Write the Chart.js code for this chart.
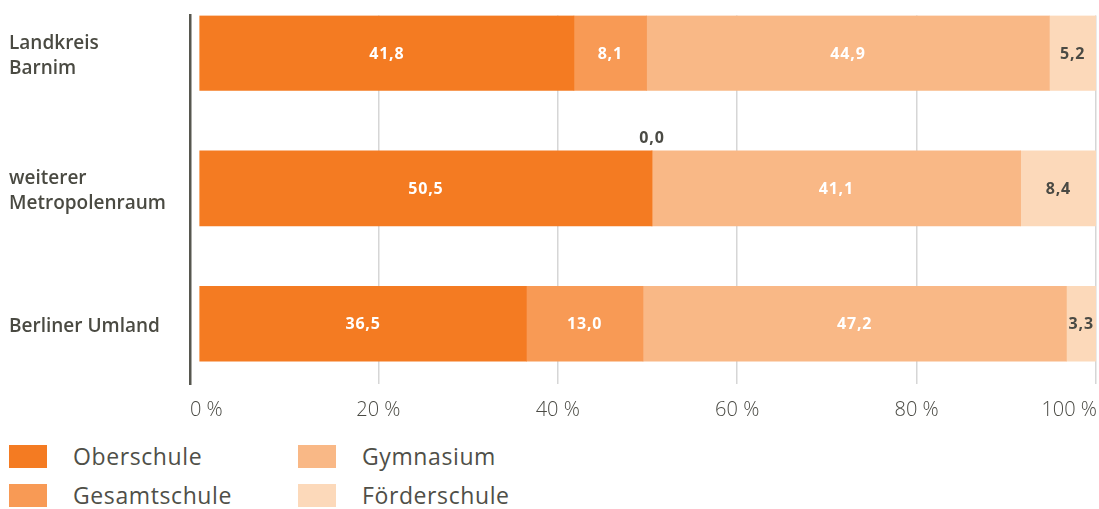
<!DOCTYPE html>
<html>
<head>
<meta charset="utf-8">
<script src="https://cdn.jsdelivr.net/npm/chart.js@4/dist/chart.umd.min.js"></script>
<style>
  html, body { margin: 0; padding: 0; background: #fff; }
  #wrap { position: relative; width: 1099px; height: 509px; overflow: hidden; }
  #box { position: absolute; left: 0; top: 0; width: 1099px; height: 430px; }
  .lg { position: absolute; font-family: "Open Sans", sans-serif; font-size: 23px; font-weight: 400;
        color: #4f4f48; letter-spacing: 0.6px; white-space: nowrap; line-height: 24px; }
  .sq { position: absolute; width: 38px; height: 23px; }
</style>
</head>
<body>
<div id="wrap">
  <div id="box"><canvas id="chart"></canvas></div>
  <div id="legend"></div>
</div>
<script>
// categories (top to bottom), one array per line of the label
const categories = [["Landkreis", "Barnim"], ["weiterer", "Metropolenraum"], ["Berliner Umland"]];

// shares in percent
const oberschule   = [41.8, 50.5, 36.5];
const gesamtschule = [8.1, 0.0, 13.0];
const gymnasium    = [44.9, 41.1, 47.2];
const foerderschule = [5.2, 8.4, 3.3];

const seriesNames = ["Oberschule", "Gesamtschule", "Gymnasium", "Förderschule"];
const seriesColors = ["#f47b22", "#f89a55", "#f9b886", "#fcd9ba"];
const labelColors = ["#ffffff", "#ffffff", "#ffffff", "#4a4a44"];

const xTicks = [0, 20, 40, 60, 80, 100];
const xTickLabels = ["0 %", "20 %", "40 %", "60 %", "80 %", "100 %"];

const allSeries = [oberschule, gesamtschule, gymnasium, foerderschule];

function fmt(v) {
  return v.toFixed(1).replace(".", ",");
}

// value labels inside / above the segments
const valueLabels = {
  id: "valueLabels",
  afterDatasetsDraw(chart) {
    const ctx = chart.ctx;
    ctx.save();
    ctx.font = "700 16px 'Open Sans', sans-serif";
    ctx.letterSpacing = "0.8px";
    ctx.textAlign = "center";
    ctx.textBaseline = "middle";
    chart.data.datasets.forEach((ds, i) => {
      const meta = chart.getDatasetMeta(i);
      meta.data.forEach((bar, j) => {
        const v = ds.data[j].x;
        const cx = (bar.x + bar.base) / 2;
        if (v === 0) {
          ctx.fillStyle = "#4a4a44";
          ctx.fillText(fmt(v), cx, bar.y - bar.height / 2 - 12);
        } else {
          ctx.fillStyle = labelColors[i];
          ctx.fillText(fmt(v), cx, bar.y + 1);
        }
      });
    });
    ctx.restore();
  }
};

// x tick labels, kept inside the canvas at both ends
const xLabels = {
  id: "xLabels",
  afterDraw(chart) {
    const ctx = chart.ctx;
    const sc = chart.scales.x;
    ctx.save();
    ctx.font = "300 20px 'Open Sans', sans-serif";
    ctx.fillStyle = "#4a4a44";
    ctx.textBaseline = "middle";
    ctx.textAlign = "left";
    xTicks.forEach((t, i) => {
      const txt = xTickLabels[i];
      const w = ctx.measureText(txt).width;
      let x = sc.getPixelForValue(t) - w / 2;
      x = Math.max(chart.chartArea.left, Math.min(x, chart.width - 2 - w));
      ctx.fillText(txt, x, 410);
    });
    ctx.restore();
  }
};

const datasets = allSeries.map((arr, i) => ({
  label: seriesNames[i],
  data: arr.map((v, j) => ({ x: v, y: j })),
  backgroundColor: seriesColors[i],
  borderWidth: 0,
  barThickness: 75
}));

new Chart(document.getElementById("chart"), {
  type: "bar",
  data: { datasets: datasets },
  options: {
    indexAxis: "y",
    responsive: true,
    maintainAspectRatio: false,
    animation: false,
    layout: { padding: { top: 15, left: 9, right: 3, bottom: 0 } },
    plugins: { legend: { display: false }, tooltip: { enabled: false } },
    scales: {
      x: {
        type: "linear",
        stacked: true,
        min: -1,
        max: 100,
        afterBuildTicks: (s) => { s.ticks = xTicks.map(v => ({ value: v })); },
        afterFit: (s) => { s.height = 46; },
        ticks: { display: false },
        border: { display: false },
        grid: {
          drawTicks: false,
          lineWidth: 1.5,
          color: (c) => (c.tick && c.tick.value === 0 ? "rgba(0,0,0,0)" : "#d6d6d6")
        }
      },
      y: {
        type: "linear",
        stacked: true,
        reverse: true,
        offset: false,
        min: -0.2765,
        max: 2.4447,
        afterBuildTicks: (s) => { s.ticks = categories.map((c, i) => ({ value: i })); },
        afterFit: (s) => { s.width = 181; },
        grid: { display: false, drawTicks: false, offset: false },
        border: { display: true, color: "#57574f", width: 2.5 },
        ticks: {
          autoSkip: false,
          crossAlign: "far",
          labelOffset: 3,
          color: "#4a4a42",
          font: { family: "'Open Sans', sans-serif", size: 19, weight: "600", lineHeight: 1.32 },
          callback: (v) => categories[v]
        }
      }
    }
  },
  plugins: [valueLabels, xLabels]
});

// legend, two columns
const legend = document.getElementById("legend");
const legendPos = [[9, 445], [9, 484], [298, 445], [298, 484]];
seriesNames.forEach((name, i) => {
  const [lx, ly] = legendPos[i];
  const sq = document.createElement("div");
  sq.className = "sq";
  sq.style.left = lx + "px";
  sq.style.top = ly + "px";
  sq.style.background = seriesColors[i];
  legend.appendChild(sq);
  const tx = document.createElement("div");
  tx.className = "lg";
  tx.style.left = (lx + 64) + "px";
  tx.style.top = (ly - 1) + "px";
  tx.textContent = name;
  legend.appendChild(tx);
});
</script>
</body>
</html>
